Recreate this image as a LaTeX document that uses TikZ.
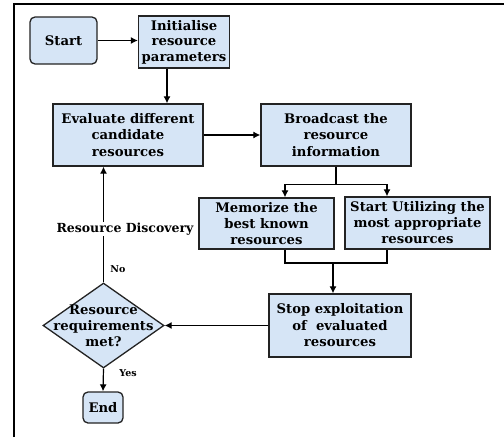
\documentclass[tikz,border=0pt]{standalone}
\usepackage{fontspec}
\setmainfont{DejaVu Serif}
\usetikzlibrary{shapes.geometric,arrows.meta}
\definecolor{boxfill}{RGB}{214,229,246}
\definecolor{boxline}{RGB}{35,35,35}
\begin{document}
\begin{tikzpicture}[x=1pt,y=-1pt,
  box/.style={draw=boxline, line width=1.3pt, fill=boxfill, align=center,
    inner sep=0pt, font=\bfseries\fontsize{13.2}{16.5}\selectfont},
  term/.style={box, rounded corners=5pt},
  decision/.style={draw=boxline, line width=1.3pt, fill=boxfill, diamond,
    inner sep=0pt, minimum width=121pt, minimum height=85pt},
  wire/.style={draw=black, line width=1.2pt},
  flow/.style={wire, -{Latex[length=7pt,width=7pt]}},
  lbl/.style={font=\bfseries\fontsize{12.5}{14}\selectfont, inner sep=1pt},
  small/.style={font=\bfseries\fontsize{9.5}{11}\selectfont, inner sep=1pt}
]
\useasboundingbox (0,0) rectangle (504,437);
% frame
\draw[line width=1.5pt] (14,437) -- (14,4) -- (504,4);

% boxes
\node[term, minimum width=67pt, minimum height=47pt] (start) at (63.5,40.5) {Start};
\node[box, minimum width=91pt, minimum height=52pt, font=\bfseries\fontsize{13.2}{15.5}\selectfont] (init) at (184,42) {Initialise\\resource\\parameters};
\node[box, minimum width=150pt, minimum height=62pt] (eval) at (128,135) {Evaluate different\\candidate\\resources};
\node[box, minimum width=150pt, minimum height=62pt] (bcast) at (336,135) {Broadcast the\\resource\\information};
\node[box, minimum width=135pt, minimum height=51pt, font=\bfseries\fontsize{13.2}{16}\selectfont] (mem) at (266.5,223.5) {Memorize the\\best known\\resources};
\node[box, minimum width=145pt, minimum height=52pt, font=\bfseries\fontsize{13.2}{16}\selectfont] (util) at (417.5,223) {Start Utilizing the\\most appropriate\\resources};
\node[box, minimum width=142pt, minimum height=63pt] (stop) at (340,325.5) {Stop exploitation\\of\ \ evaluated\\resources};
\node[decision] (dec) at (103.5,325.5) {};
\node[align=center, inner sep=0pt, font=\bfseries\fontsize{13.2}{16}\selectfont] (dectext) at (dec.center) {Resource\\requirements\\met?};
\node[term, minimum width=40pt, minimum height=31pt] (end) at (103,407.5) {End};

% helper columns
\coordinate (c1) at (167,0);
\coordinate (fm) at (285,0);
\coordinate (fu) at (387,0);
\coordinate (j) at (333,263);

% connectors
\draw[flow] (start.east) -- (start.east -| init.west);
\draw[flow] (init.south -| c1) -- (eval.north -| c1);
\draw[flow] (eval.east) -- (bcast.west);
\draw[wire] (bcast.south) -- ++(0,18) coordinate (fork);
\draw[flow] (fork) -| (mem.north -| fm);
\draw[flow] (fork) -| (util.north -| fu);
\draw[wire] (mem.south -| fm) |- (j) -| (util.south -| fu);
\draw[flow] (j) -- (stop.north -| j);
\draw[flow] (stop.west) -- (dec.east);
\draw[flow] (dec.north) -- (eval.south -| dec.north);
\draw[flow] (dec.south) -- (end.north);

% labels
\node[lbl, fill=white] (disc) at (125,229) {Resource Discovery};
\node[small] (no) at (118,269) {No};
\node[small] (yes) at (128,373) {Yes};
\end{tikzpicture}
\end{document}
